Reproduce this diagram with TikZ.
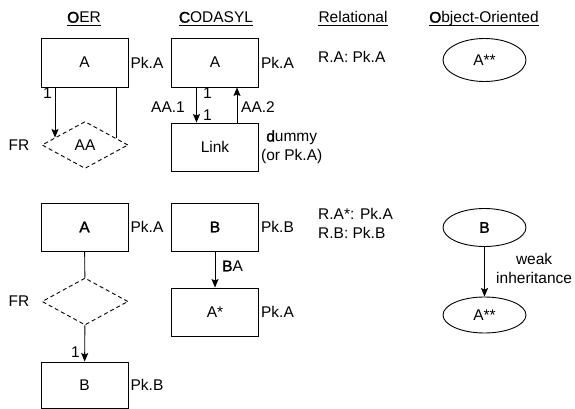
\documentclass[tikz,border=0pt]{standalone}
\usepackage{fontspec}
\setmainfont{Liberation Sans}
\newfontfamily\fbfam[FakeBold=1.6]{Liberation Sans}
\newcommand{\fbt}[1]{{\fbfam #1}}
\usetikzlibrary{shapes.geometric,arrows.meta}
\begin{document}
\begin{tikzpicture}[x=1pt,y=-1pt,
  every node/.style={font=\fontsize{15.5}{19}\selectfont, inner sep=0pt},
  ent/.style={draw, line width=0.9pt, minimum width=87pt, minimum height=48pt},
  rel/.style={draw, diamond, dash pattern=on 4pt off 3pt, line width=0.9pt, minimum width=86pt, minimum height=47pt, aspect=1.83},
  obj/.style={draw, ellipse, line width=0.9pt, minimum width=83pt},
  hdr/.style={anchor=base},
  uline/.style={line width=0.8pt},
  conn/.style={line width=0.9pt},
  arr/.style={conn, -{Stealth[length=8.5pt,width=7pt,inset=1.5pt]}},
]
\useasboundingbox (0,0) rectangle (575,409);

% headers
\node[hdr] (h1) at (84,22.7) {\fbt{O}ER};
\node[hdr] (h2) at (216,22.7) {\fbt{C}ODASYL};
\node[hdr] (h3) at (353,22.7) {Relational};
\node[hdr] (h4) at (484,22.7) {\fbt{O}bject-Oriented};
\foreach \h in {h1,h2,h3,h4}
  \draw[uline] ([yshift=-2.3pt]\h.base west) -- ([yshift=-2.3pt]\h.base east);

% ---- top row: OER
\node[ent, minimum height=49pt] (oA1) at (84.5,62.5) {A};
\node[anchor=west] (oA1k) at ([xshift=2pt]oA1.east) {Pk.A};
\node[rel] (fr1) at (85,145) {AA};
\node[anchor=east] (fr1l) at ([xshift=-12pt]fr1.west) {FR};
\coordinate (s1) at ([xshift=-29.5pt]oA1.south);
\coordinate (s2) at ([xshift=31.5pt]oA1.south);
\draw[arr] (s1) -- (s1 |- fr1.166);
\draw[conn] (s2) -- (s2 |- fr1.12);
\node[anchor=east] (one1) at (52,93) {1};

% ---- top row: CODASYL
\node[ent, minimum height=49pt] (cA1) at (215,62.5) {A};
\node[anchor=west] (cA1k) at ([xshift=2pt]cA1.east) {Pk.A};
\node[ent] (link) at (215,147) {Link};
\node[anchor=west, align=center] (dum) at ([xshift=2pt]link.east) {\fbt{d}ummy\\(or Pk.A)};
\draw[arr] ([xshift=-18.5pt]cA1.south) -- ([xshift=-18.5pt]link.north);
\draw[arr] ([xshift=22pt]link.north) -- ([xshift=22pt]cA1.south);
\node[anchor=west] (one2) at (203,93) {1};
\node[anchor=west] (one3) at (203,115.5) {1};
\node[anchor=east] (aa1) at (185,107) {AA.1};
\node[anchor=west] (aa2) at (241,107) {AA.2};

% ---- top row: Relational / OO
\node[anchor=west] (r1) at (318,57) {R.A: Pk.A};
\node[obj, minimum height=43pt] (ooA1) at (484.5,60) {A**};

% ---- bottom: OER
\node[ent] (oA2) at (84.5,227) {\fbt{A}};
\node[anchor=west] (oA2k) at ([xshift=2pt]oA2.east) {Pk.A};
\node[rel] (fr2) at (85,301.5) {};
\node[anchor=east] (fr2l) at ([xshift=-12pt]fr2.west) {FR};
\node[ent, minimum height=46pt] (oB3) at (84.5,385) {B};
\node[anchor=west] (oB3k) at ([xshift=2pt]oB3.east) {Pk.B};
\draw[conn] (oA2) -- (fr2);
\draw[arr] (fr2) -- (oB3);
\node[anchor=east] (one4) at (80,352) {1};

% ---- bottom: CODASYL
\node[ent] (cB2) at (215,227) {\fbt{B}};
\node[anchor=west] (cB2k) at ([xshift=2pt]cB2.east) {Pk.B};
\node[ent] (cA2) at (215,312) {A*};
\node[anchor=west] (cA2k) at ([xshift=2pt]cA2.east) {Pk.A};
\draw[arr] (cB2) -- (cA2);
\node[anchor=west] (ba) at (222,266) {\fbt{B}A};

% ---- bottom: Relational / OO
\node[anchor=west, align=left] (r2) at (318,223) {R.A*: Pk.A\\R.B: Pk.B};
\node[obj, minimum height=38pt] (ooB) at (484.5,227.5) {\fbt{B}};
\node[obj, minimum height=36pt] (ooA2) at (484.5,315) {A**};
\draw[arr] (ooB) -- (ooA2);
\node[anchor=west, align=center] (wi) at (496,268) {weak\\inheritance};
\end{tikzpicture}
\end{document}
